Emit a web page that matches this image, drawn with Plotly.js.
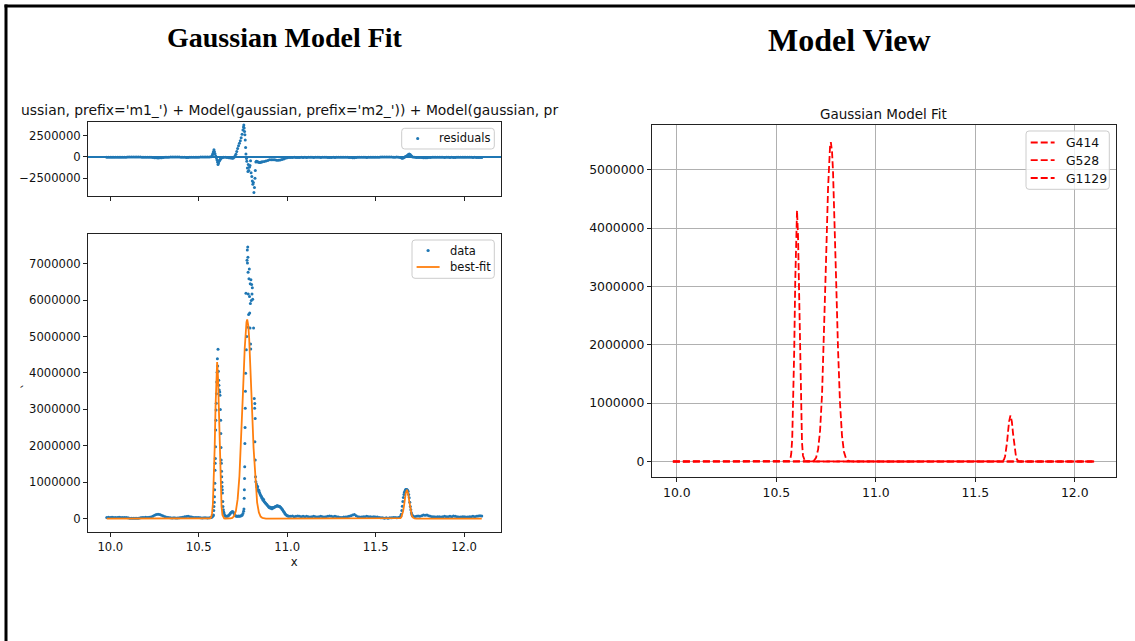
<!DOCTYPE html>
<html>
<head>
<meta charset="utf-8">
<script src="https://cdn.plot.ly/plotly-3.0.1.min.js"></script>
<style>html,body{margin:0;padding:0;background:#fff;}#chart{width:1135px;height:641px;}</style>
</head>
<body>
<div id="chart"></div>
<script>
// ---------- tick labels ----------
const xTickVals = [10, 10.5, 11, 11.5, 12];
const xTickText = ['10.0', '10.5', '11.0', '11.5', '12.0'];
const resTickVals = [-2500000, 0, 2500000];
const resTickText = ['\u22122500000', '0', '2500000'];
const dataTickVals = [0, 1000000, 2000000, 3000000, 4000000, 5000000, 6000000, 7000000];
const dataTickText = ['0', '1000000', '2000000', '3000000', '4000000', '5000000', '6000000', '7000000'];
const modelTickVals = [0, 1000000, 2000000, 3000000, 4000000, 5000000];
const modelTickText = ['0', '1000000', '2000000', '3000000', '4000000', '5000000'];

// ---------- data points ----------
const baseAX = [9.98,9.99,10.00,10.01,10.02,10.03,10.04,10.05,10.06,10.07,10.08,10.09,10.10,10.11,10.12,10.13,10.14,10.15,10.16,10.17,10.18,10.19,10.20,10.21,10.22,10.23,10.24,10.25,10.26,10.27,10.28,10.29,10.30,10.31,10.32,10.33,10.34,10.35,10.36,10.37,10.38,10.39,10.40,10.41,10.42,10.43,10.44,10.45,10.46,10.47,10.48,10.49,10.50,10.51,10.52,10.53,10.54,10.55,10.56,10.57];
const baseAY = [30000,32000,28000,35000,30000,31000,29000,34000,30000,28000,31000,30000,24000,9000,8000,5000,9000,10000,8000,24000,30000,31000,35000,30000,34000,40000,60000,90000,110000,120000,108000,90000,70000,50000,38000,30000,20000,15000,20000,14000,18000,20000,30000,36000,50000,56000,60000,52000,40000,31000,30000,26000,30000,21000,18000,24000,20000,15000,20000,30000];

const peak1X = [10.575,10.578,10.581,10.583,10.585,10.586,10.588,10.589,10.590,10.591,10.592,10.593,10.594,10.595,10.596,10.597,10.598,10.599,10.600,10.602,10.604,10.6055,10.607,10.609,10.611,10.613,10.614,10.616,10.619,10.620,10.622,10.624,10.625,10.626,10.627,10.628,10.629,10.630,10.631,10.632,10.633,10.634,10.636,10.637,10.639,10.641,10.643,10.646];
const peak1Y = [40000,60000,80000,100000,220000,330000,450000,600000,790000,970000,1330000,1520000,1650000,1970000,2430000,2700000,2980000,3170000,3430000,3750000,4020000,4390000,4190000,4650000,4050000,3800000,3660000,3530000,3480000,3390000,3000000,2700000,2340000,1950000,1610000,1520000,1300000,1150000,1000000,880000,790000,700000,470000,330000,240000,180000,150000,100000];

const gapX = [10.650,10.655,10.660,10.665,10.670,10.675,10.680,10.685,10.690,10.695,10.700,10.705,10.710,10.715,10.720,10.725,10.730,10.735,10.740,10.745,10.750];
const gapY = [70000,60000,60000,70000,90000,120000,150000,170000,190000,180000,140000,90000,70000,60000,60000,70000,60000,70000,80000,90000,140000];

const peak2X = [10.7535,10.7555,10.757,10.758,10.759,10.760,10.761,10.762,10.763,10.764,10.765,10.767,10.769,10.771,10.773,10.7745,10.7755,10.777,10.778,10.779,10.7795,10.780,10.782,10.784,10.786,10.787,10.788,10.790,10.791,10.792,10.793,10.794,10.795,10.797,10.799,10.801,10.803,10.805,10.810,10.814,10.816,10.817,10.8175,10.819,10.8195,10.821];
const peak2Y = [200000,260000,560000,790000,1100000,1420000,2060000,2500000,3030000,3500000,3990000,6190000,4640000,5000000,7100000,7380000,7020000,7460000,7180000,6770000,5260000,6170000,5610000,6590000,6860000,6100000,5650000,5240000,6450000,5910000,4800000,4660000,6560000,5990000,6430000,6170000,6340000,6030000,5240000,3300000,3030000,3160000,2110000,2750000,1610000,1150000];

const tailX = [10.823,10.826,10.828,10.830,10.833,10.835,10.838,10.840,10.843,10.846,10.849,10.852,10.855,10.858,10.861,10.864,10.867,10.870,10.874,10.878,10.882,10.886,10.890,10.894,10.898,10.902,10.906,10.910,10.914,10.918,10.922,10.926,10.930,10.934,10.938,10.942,10.946,10.950,10.954,10.958,10.962,10.966,10.970,10.974,10.978,10.982,10.986,10.990,10.995,11.000,11.005,11.010];
const tailY = [1010000,950000,900000,860000,880000,800000,760000,780000,720000,680000,650000,620000,600000,560000,550000,500000,520000,470000,450000,420000,400000,380000,350000,330000,300000,320000,280000,300000,270000,300000,290000,310000,320000,330000,340000,350000,350000,340000,340000,330000,310000,290000,260000,240000,210000,180000,150000,120000,100000,80000,70000,60000];

const baseCX = [11.02,11.03,11.04,11.05,11.06,11.07,11.08,11.09,11.10,11.11,11.12,11.13,11.14,11.15,11.16,11.17,11.18,11.19,11.20,11.21,11.22,11.23,11.24,11.25,11.26,11.27,11.28,11.29,11.30,11.31,11.32,11.33,11.34,11.35,11.36,11.37,11.38,11.39,11.40,11.41,11.42,11.43,11.44,11.45,11.46,11.47,11.48,11.49,11.50,11.51,11.52,11.53,11.54,11.55,11.56,11.57,11.58,11.59,11.60,11.61,11.62,11.63];
const baseCY = [60000,70000,50000,60000,70000,60000,50000,60000,50000,60000,50000,40000,50000,60000,50000,40000,50000,60000,50000,40000,50000,60000,70000,60000,50000,60000,50000,40000,30000,30000,40000,40000,50000,60000,80000,100000,110000,80000,50000,40000,40000,50000,50000,60000,50000,50000,40000,50000,40000,40000,30000,20000,20000,10000,20000,10000,20000,20000,30000,30000,20000,30000];

const peak3X = [11.638,11.642,11.645,11.648,11.651,11.654,11.657,11.660,11.663,11.666,11.669,11.672,11.675,11.678,11.681,11.684,11.687,11.690,11.693,11.696,11.699,11.702,11.705,11.708,11.712];
const peak3Y = [40000,60000,120000,220000,340000,470000,580000,660000,720000,760000,790000,800000,800000,790000,770000,740000,660000,570000,450000,330000,240000,160000,110000,80000,60000];

const baseDX = [11.72,11.73,11.74,11.75,11.76,11.77,11.78,11.79,11.80,11.81,11.82,11.83,11.84,11.85,11.86,11.87,11.88,11.89,11.90,11.91,11.92,11.93,11.94,11.95,11.96,11.97,11.98,11.99,12.00,12.01,12.02,12.03,12.04,12.05,12.06,12.07,12.08,12.09,12.10];
const baseDY = [50000,60000,70000,60000,80000,100000,90000,100000,80000,60000,50000,50000,40000,50000,50000,40000,50000,60000,50000,50000,60000,50000,70000,60000,50000,40000,40000,50000,50000,40000,40000,50000,50000,60000,50000,60000,70000,80000,70000];

// ---------- residuals (model - data) ----------
const resAY = [-30000,-32000,-28000,-35000,-30000,-31000,-29000,-34000,-30000,-28000,-31000,-30000,-24000,-9000,-8000,-5000,-9000,-10000,-8000,-24000,-30000,-31000,-35000,-30000,-34000,-40000,-60000,-90000,-110000,-120000,-108000,-90000,-70000,-50000,-38000,-30000,-20000,-15000,-20000,-14000,-18000,-20000,-30000,-36000,-50000,-56000,-60000,-52000,-40000,-31000,-30000,-26000,-30000,-21000,-18000,-24000,-20000,-15000,-15000,10000];
const resPeakX = [10.575,10.578,10.581,10.583,10.586,10.589,10.592,10.596,10.600,10.603,10.606,10.609,10.612,10.615,10.618,10.622,10.626,10.630,10.635,10.640,10.650,10.660,10.670,10.680,10.690,10.695,10.700,10.705,10.710,10.715,10.720,10.725,10.730,10.735,10.740,10.745,10.750,10.753,10.755,10.757,10.759,10.761,10.763,10.765,10.767,10.770,10.772,10.775,10.778,10.780,10.783,10.786,10.790,10.793,10.796,10.800,10.803,10.806,10.809,10.812,10.815,10.818,10.820,10.823,10.826,10.830,10.835,10.840,10.845,10.850,10.855,10.860,10.870,10.880,10.890,10.900,10.910,10.920,10.930,10.940,10.950,10.960,10.970,10.980,10.990,11.000,11.010];
const resPeakY = [100000,250000,420000,600000,850000,620000,380000,120000,-100000,-320000,-600000,-900000,-720000,-520000,-380000,-260000,-160000,-100000,-60000,-40000,-50000,-60000,-90000,-120000,-150000,-120000,-40000,100000,300000,650000,1000000,1300000,1600000,1900000,2250000,2650000,3150000,3500000,3760000,3400000,3000000,2600000,2000000,1100000,350000,-200000,-500000,-1300000,-1700000,-900000,-1600000,-1200000,-1000000,-450000,-1860000,-2300000,-2840000,-3220000,-3000000,-4190000,-3600000,-2500000,-1600000,-600000,-500000,-550000,-600000,-620000,-650000,-620000,-600000,-580000,-540000,-480000,-420000,-340000,-320000,-320000,-340000,-380000,-380000,-360000,-300000,-240000,-160000,-100000,-70000];
const resCY = [-60000,-70000,-50000,-60000,-70000,-60000,-50000,-60000,-50000,-60000,-50000,-40000,-50000,-60000,-50000,-40000,-50000,-60000,-50000,-40000,-50000,-60000,-70000,-60000,-50000,-60000,-50000,-40000,-30000,-30000,-40000,-40000,-50000,-60000,-80000,-100000,-110000,-80000,-50000,-40000,-40000,-50000,-50000,-60000,-50000,-50000,-40000,-50000,-40000,-40000,-30000,-20000,-20000,-10000,-20000,-10000,-20000,-20000,-30000,-30000,-20000,-50000];
const resPk3X = [11.640,11.645,11.650,11.655,11.660,11.665,11.670,11.675,11.680,11.685,11.690,11.695,11.700,11.705,11.710];
const resPk3Y = [-60000,-110000,-150000,-120000,-60000,0,60000,110000,180000,280000,340000,280000,160000,50000,-20000];
const resDY = [-50000,-60000,-70000,-60000,-80000,-100000,-90000,-100000,-80000,-60000,-50000,-50000,-40000,-50000,-50000,-40000,-50000,-60000,-50000,-50000,-60000,-50000,-70000,-60000,-50000,-40000,-40000,-50000,-50000,-40000,-40000,-50000,-50000,-60000,-50000,-60000,-70000,-80000,-70000];

// ---------- best-fit curve ----------
const fitX = [9.98,10.50,10.555,10.56,10.565,10.57,10.575,10.58,10.585,10.59,10.595,10.60,10.604,10.609,10.614,10.619,10.624,10.629,10.634,10.639,10.644,10.65,10.66,10.67,10.68,10.69,10.70,10.71,10.72,10.73,10.74,10.75,10.76,10.765,10.77,10.774,10.78,10.785,10.79,10.80,10.81,10.82,10.83,10.84,10.85,10.86,10.87,10.88,10.90,11.60,11.62,11.63,11.64,11.645,11.65,11.655,11.66,11.665,11.67,11.677,11.684,11.69,11.695,11.70,11.705,11.71,11.72,11.73,11.75,12.10];
const fitY = [0,0,0,1400,8000,36000,133000,398000,968000,1910000,3080000,4020000,4300000,3880000,2850000,1700000,820000,330000,100000,27000,6000,1000,200,1000,4600,19000,68000,206000,532000,1160000,2170000,3450000,4680000,5130000,5400000,5470000,5310000,4970000,4460000,3180000,1940000,1010000,445000,168000,54000,15000,3000,0,0,0,0,1100,14000,38000,91000,189000,336000,516000,683000,790000,683000,479000,303000,165000,78000,32000,3000,0,0,0];

// ---------- model components ----------
const g414X = [9.98,10.555,10.56,10.565,10.57,10.575,10.58,10.585,10.59,10.595,10.60,10.604,10.609,10.614,10.619,10.624,10.629,10.634,10.639,10.644,10.65,12.10];
const g414Y = [0,0,1400,8000,36000,133000,398000,968000,1910000,3080000,4020000,4300000,3880000,2850000,1700000,820000,330000,100000,27000,6000,1000,0];
const g528X = [9.98,10.66,10.67,10.68,10.69,10.70,10.71,10.72,10.73,10.74,10.75,10.76,10.765,10.77,10.774,10.78,10.785,10.79,10.80,10.81,10.82,10.83,10.84,10.85,10.86,10.87,10.88,12.10];
const g528Y = [0,200,1000,4600,19000,68000,206000,532000,1160000,2170000,3450000,4680000,5130000,5400000,5470000,5310000,4970000,4460000,3180000,1940000,1010000,445000,168000,54000,15000,3000,0,0];
const g1129X = [9.98,11.62,11.63,11.64,11.645,11.65,11.655,11.66,11.665,11.67,11.677,11.684,11.69,11.695,11.70,11.705,11.71,11.72,11.73,12.10];
const g1129Y = [0,0,1100,14000,38000,91000,189000,336000,516000,683000,790000,683000,479000,303000,165000,78000,32000,3000,0,0];

const componentNames = ['G414', 'G528', 'G1129'];
const seriesNames = ['residuals', 'data', 'best-fit'];

// ---------- assemble ----------
const dataX = [].concat(baseAX, peak1X, gapX, peak2X, tailX, baseCX, peak3X, baseDX);
const dataY = [].concat(baseAY, peak1Y, gapY, peak2Y, tailY, baseCY, peak3Y, baseDY);
const resX = [].concat(baseAX, resPeakX, baseCX, resPk3X, baseDX);
const resY = [].concat(resAY, resPeakY, resCY, resPk3Y, resDY);

const W = 1135, H = 641;
const px = v => v / W;
const py = v => 1 - v / H;
const FONT = 'DejaVu Sans';
const blue = '#1f77b4';
const orange = '#ff7f0e';
const dashStyle = '7px,3px';

const traces = [
  {type: 'scatter', mode: 'markers', x: resX, y: resY, name: seriesNames[0], xaxis: 'x', yaxis: 'y',
   marker: {size: 3, color: blue}},
  {type: 'scatter', mode: 'markers', x: dataX, y: dataY, name: seriesNames[1], xaxis: 'x2', yaxis: 'y2',
   marker: {size: 3, color: blue}},
  {type: 'scatter', mode: 'lines', x: fitX, y: fitY, name: seriesNames[2], xaxis: 'x2', yaxis: 'y2',
   line: {color: orange, width: 1.8}},
  {type: 'scatter', mode: 'lines', x: g414X, y: g414Y, name: componentNames[0], xaxis: 'x3', yaxis: 'y3',
   line: {color: 'red', width: 1.8, dash: dashStyle}},
  {type: 'scatter', mode: 'lines', x: g528X, y: g528Y, name: componentNames[1], xaxis: 'x3', yaxis: 'y3',
   line: {color: 'red', width: 1.8, dash: dashStyle}},
  {type: 'scatter', mode: 'lines', x: g1129X, y: g1129Y, name: componentNames[2], xaxis: 'x3', yaxis: 'y3',
   line: {color: 'red', width: 1.8, dash: dashStyle}}
];

const axBase = {
  showline: true, mirror: true, linecolor: '#222', linewidth: 1,
  ticks: 'outside', ticklen: 4, tickwidth: 1, tickcolor: '#222',
  zeroline: false, showgrid: false,
  tickfont: {family: FONT, size: 11.6, color: '#111'}
};
const rightTickFont = {family: FONT, size: 12.4, color: '#111'};
const leftLegFont = {family: FONT, size: 11.5, color: '#111'};

// ---------- matplotlib-like legends (boxes, handles, labels) ----------
function roundRect(x0, y0, x1, y1, r) {
  const P = (x, y) => px(x).toFixed(6) + ',' + py(y).toFixed(6);
  return 'M' + P(x0 + r, y0) + ' L' + P(x1 - r, y0) + ' Q' + P(x1, y0) + ' ' + P(x1, y0 + r) +
         ' L' + P(x1, y1 - r) + ' Q' + P(x1, y1) + ' ' + P(x1 - r, y1) +
         ' L' + P(x0 + r, y1) + ' Q' + P(x0, y1) + ' ' + P(x0, y1 - r) +
         ' L' + P(x0, y0 + r) + ' Q' + P(x0, y0) + ' ' + P(x0 + r, y0) + ' Z';
}
function legendBox(x0, y0, x1, y1) {
  return {type: 'path', xref: 'paper', yref: 'paper', path: roundRect(x0, y0, x1, y1, 3),
          fillcolor: 'rgba(255,255,255,0.8)', line: {color: '#cccccc', width: 1}, layer: 'above'};
}
function legendDot(cx, cy, color) {
  return {type: 'circle', xref: 'paper', yref: 'paper', x0: px(cx - 1.6), x1: px(cx + 1.6), y0: py(cy + 1.6), y1: py(cy - 1.6),
          fillcolor: color, line: {width: 0}, layer: 'above'};
}
function legendLine(x0, x1, cy, color, dash) {
  return {type: 'line', xref: 'paper', yref: 'paper', x0: px(x0), x1: px(x1), y0: py(cy), y1: py(cy),
          line: {color: color, width: 1.8, dash: dash || 'solid'}, layer: 'above'};
}
function legendText(text, x, cy, font) {
  return {text: text, xref: 'paper', yref: 'paper', x: px(x), y: py(cy), xanchor: 'left', yanchor: 'middle',
          showarrow: false, font: font, borderpad: 0};
}

const legendShapes = [
  legendBox(401.7, 128.3, 494.3, 149),
  legendDot(417.7, 138.5, blue),
  legendBox(412, 240, 494.3, 278.3),
  legendDot(428.1, 250.5, blue),
  legendLine(416.6, 439.6, 267, orange),
  legendBox(1026, 131, 1109.3, 189.3),
  legendLine(1030.7, 1054.6, 142.5, 'red', dashStyle),
  legendLine(1030.7, 1054.6, 160.2, 'red', dashStyle),
  legendLine(1030.7, 1054.6, 178, 'red', dashStyle)
];
const legendLabels = [
  legendText(seriesNames[0], 437.5, 138.5, leftLegFont),
  legendText(seriesNames[1], 448.8, 250.5, leftLegFont),
  legendText(seriesNames[2], 448.8, 267, leftLegFont),
  legendText(componentNames[0], 1065, 142.5, rightTickFont),
  legendText(componentNames[1], 1065, 160.2, rightTickFont),
  legendText(componentNames[2], 1065, 178, rightTickFont)
];

const layout = {
  width: W, height: H, autosize: false,
  margin: {l: 0, r: 0, t: 0, b: 0, pad: 0},
  paper_bgcolor: '#fff', plot_bgcolor: '#fff',
  showlegend: false,
  font: {family: FONT, color: '#111'},
  xaxis: Object.assign({}, axBase, {domain: [px(88), px(500.5)], range: [9.874, 12.206], anchor: 'y',
    tickvals: xTickVals, ticktext: xTickText, showticklabels: false}),
  yaxis: Object.assign({}, axBase, {domain: [py(196), py(121.5)], range: [-4590000, 4160000], anchor: 'x',
    tickvals: resTickVals, ticktext: resTickText, zeroline: true, zerolinecolor: blue, zerolinewidth: 1.5}),
  xaxis2: Object.assign({}, axBase, {domain: [px(88), px(500.5)], range: [9.874, 12.206], anchor: 'y2',
    tickvals: xTickVals, ticktext: xTickText,
    title: {text: 'x', font: {family: FONT, size: 11.6, color: '#111'}, standoff: 4}}),
  yaxis2: Object.assign({}, axBase, {domain: [py(532), py(234)], range: [-370000, 7820000], anchor: 'x2',
    tickvals: dataTickVals, ticktext: dataTickText}),
  xaxis3: Object.assign({}, axBase, {domain: [px(651.8), px(1115.7)], range: [9.874, 12.206], anchor: 'y3',
    tickvals: xTickVals, ticktext: xTickText, showgrid: true, gridcolor: '#b0b0b0', gridwidth: 1, tickfont: rightTickFont}),
  yaxis3: Object.assign({}, axBase, {domain: [py(476.7), py(125.3)], range: [-260000, 5760000], anchor: 'x3',
    tickvals: modelTickVals, ticktext: modelTickText, showgrid: true, gridcolor: '#b0b0b0', gridwidth: 1, tickfont: rightTickFont}),
  shapes: [
    {type: 'line', xref: 'paper', yref: 'paper', x0: px(4.5), x1: 1, y0: py(6), y1: py(6), line: {color: '#000', width: 3}},
    {type: 'line', xref: 'paper', yref: 'paper', x0: px(6), x1: px(6), y0: py(4.5), y1: 0, line: {color: '#000', width: 3}}
  ].concat(legendShapes),
  annotations: [
    {text: '<b>Gaussian Model Fit</b>', xref: 'paper', yref: 'paper', x: px(284.8), y: py(37), xanchor: 'center', yanchor: 'middle',
     showarrow: false, font: {family: 'Liberation Serif', size: 28, color: '#000'}},
    {text: '<b>Model View</b>', xref: 'paper', yref: 'paper', x: px(849.5), y: py(40), xanchor: 'center', yanchor: 'middle',
     showarrow: false, font: {family: 'Liberation Serif', size: 32, color: '#000'}},
    {text: "ussian, prefix='m1_') + Model(gaussian, prefix='m2_')) + Model(gaussian, pr", xref: 'paper', yref: 'paper',
     x: px(19), y: py(110), xanchor: 'left', yanchor: 'middle', showarrow: false,
     font: {family: FONT, size: 13.9, color: '#111'}},
    {text: 'Gaussian Model Fit', xref: 'paper', yref: 'paper', x: px(883.7), y: py(113.5), xanchor: 'center', yanchor: 'middle',
     showarrow: false, font: {family: FONT, size: 13.5, color: '#111'}},
    {text: '`', xref: 'paper', yref: 'paper', x: px(27), y: py(386), xanchor: 'center', yanchor: 'middle',
     showarrow: false, textangle: -90, font: {family: FONT, size: 11.6, color: '#111'}}
  ].concat(legendLabels)
};

Plotly.newPlot('chart', traces, layout, {staticPlot: true, displayModeBar: false});
</script>
</body>
</html>
